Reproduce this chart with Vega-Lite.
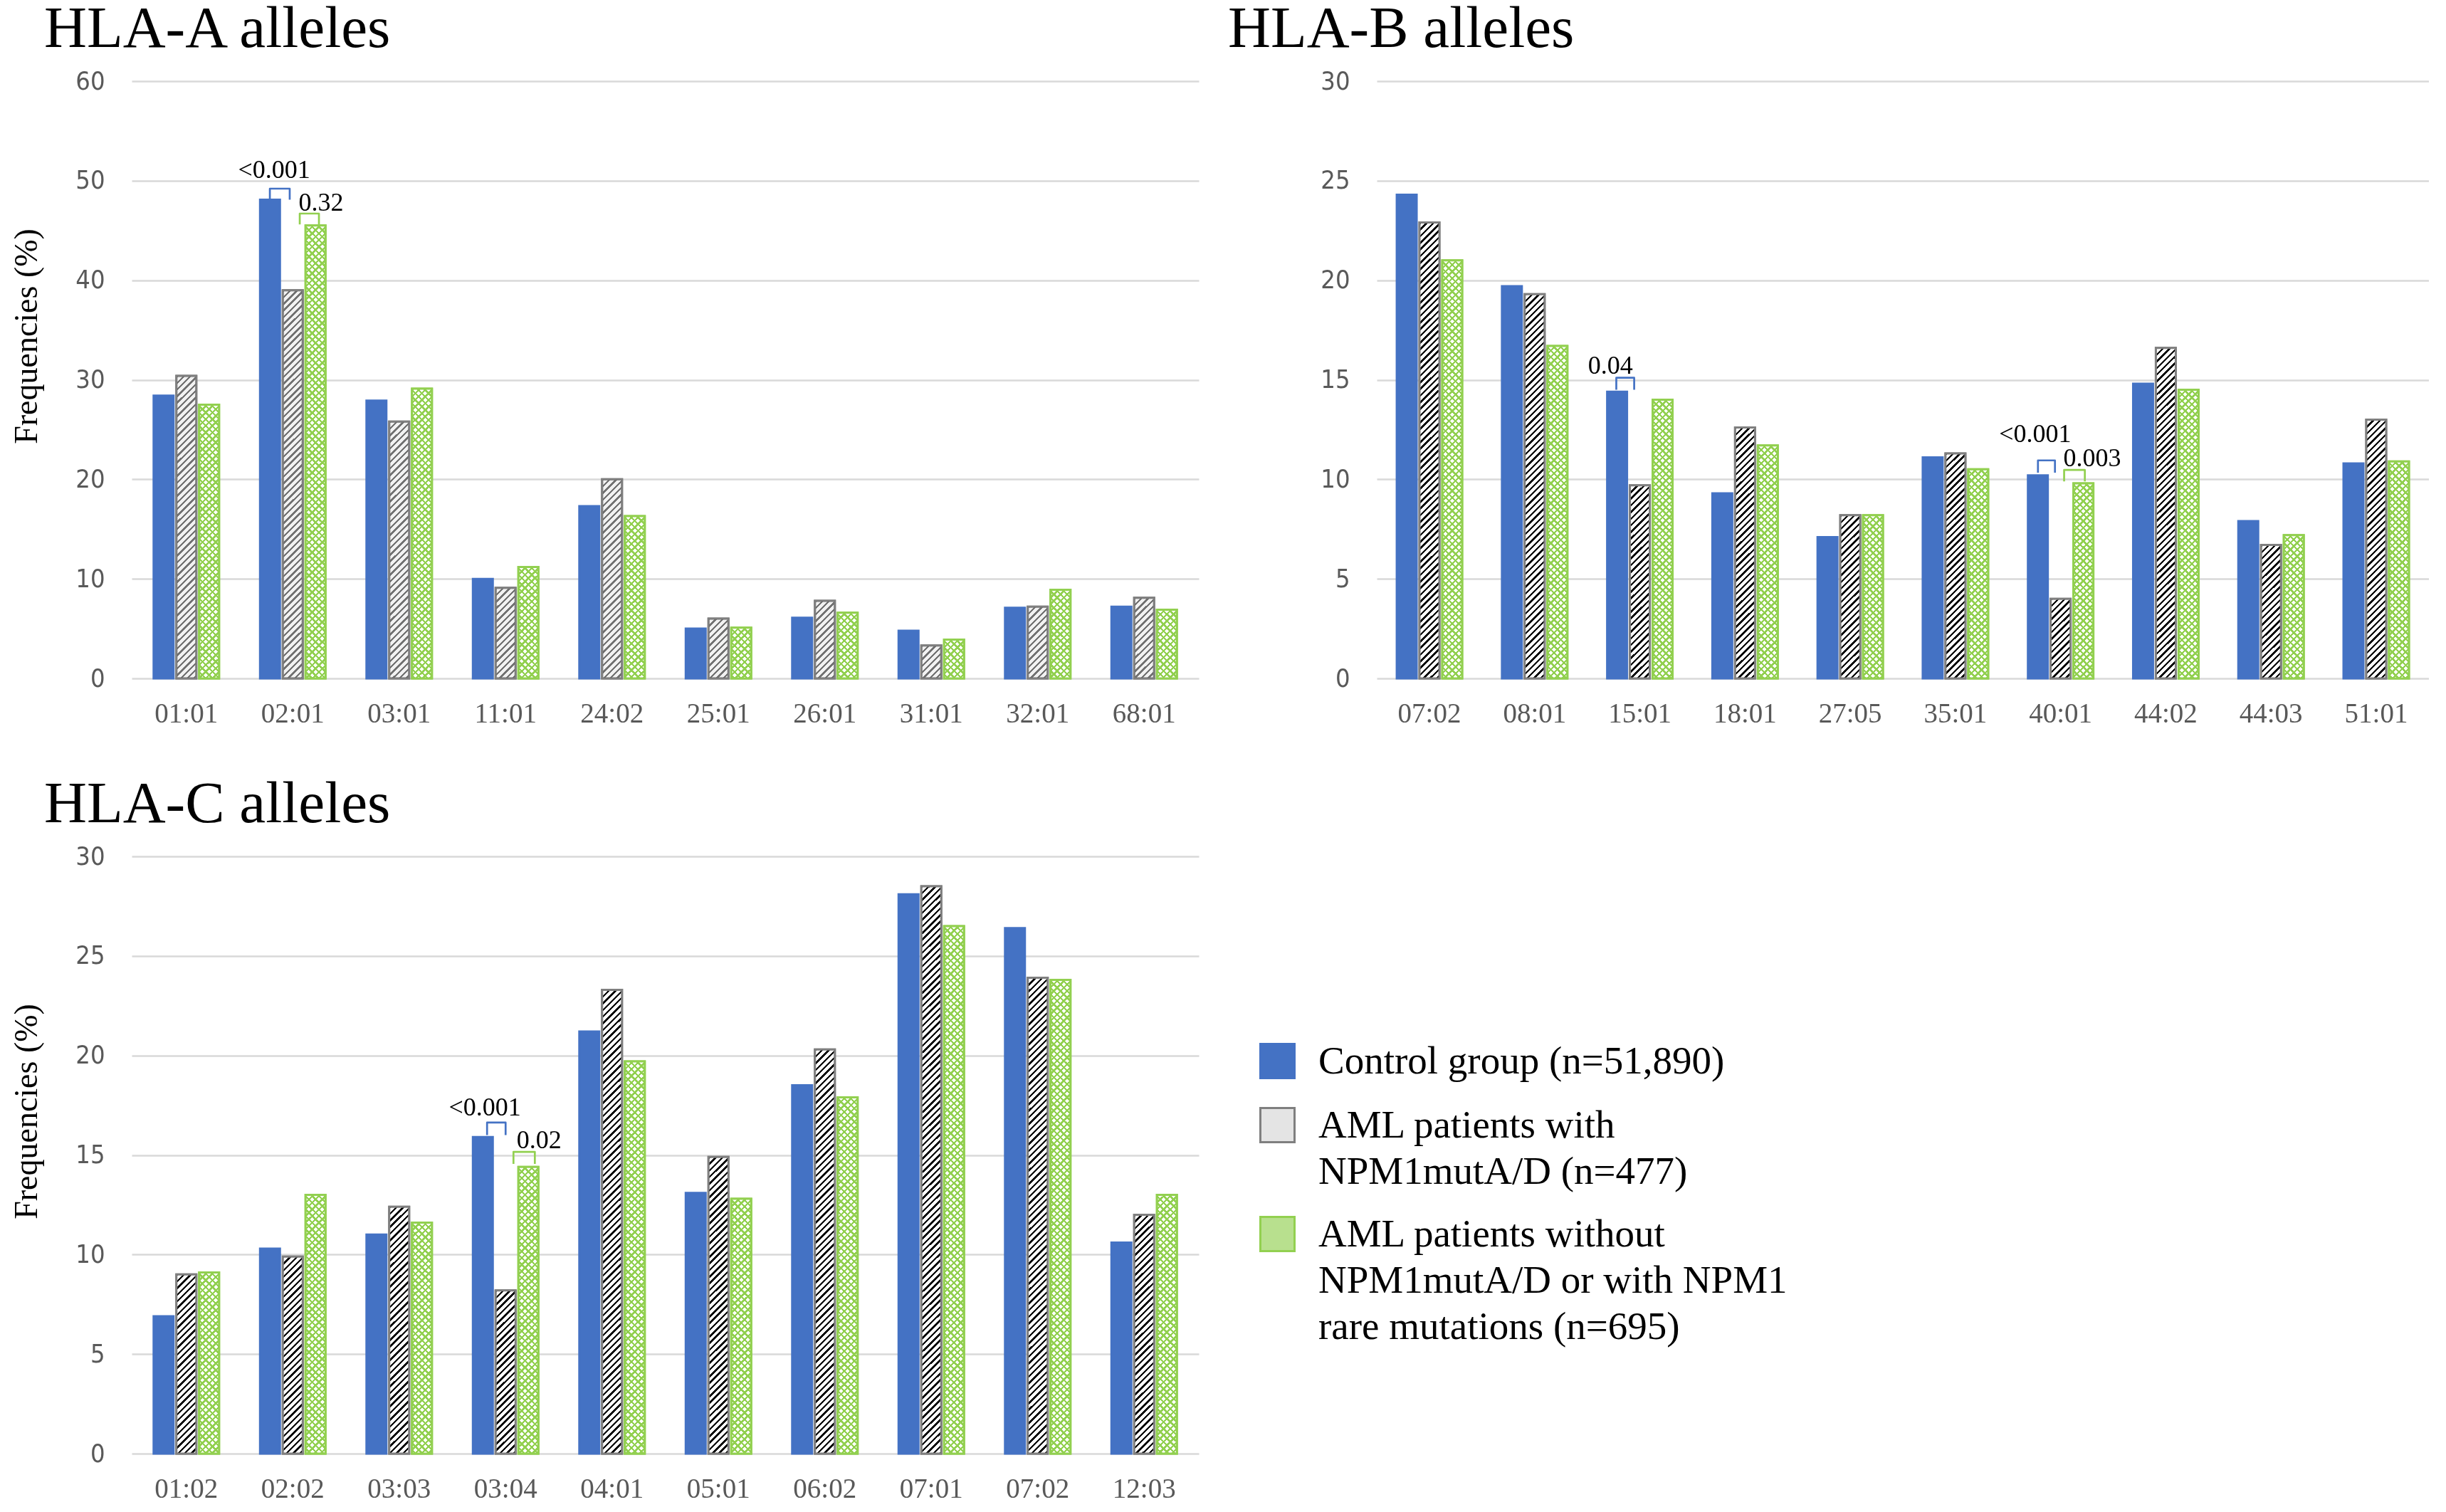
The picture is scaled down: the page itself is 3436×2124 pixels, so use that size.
{
  "$schema": "https://vega.github.io/schema/vega-lite/v6.json",
  "padding": {"left": 14, "top": 0, "right": 0, "bottom": 0},
  "background": "white",
  "params": [
    {"name": "hatch", "value": [
      {"offset":0,"color":"#fff"},{"offset":0,"color":"#000"},{"offset":0.0041,"color":"#000"},{"offset":0.0041,"color":"#fff"},
      {"offset":0.0111,"color":"#fff"},{"offset":0.0111,"color":"#000"},{"offset":0.0152,"color":"#000"},{"offset":0.0152,"color":"#fff"},
      {"offset":0.0222,"color":"#fff"},{"offset":0.0222,"color":"#000"},{"offset":0.0263,"color":"#000"},{"offset":0.0263,"color":"#fff"},
      {"offset":0.0333,"color":"#fff"},{"offset":0.0333,"color":"#000"},{"offset":0.0374,"color":"#000"},{"offset":0.0374,"color":"#fff"},
      {"offset":0.0444,"color":"#fff"},{"offset":0.0444,"color":"#000"},{"offset":0.0485,"color":"#000"},{"offset":0.0485,"color":"#fff"},
      {"offset":0.0556,"color":"#fff"},{"offset":0.0556,"color":"#000"},{"offset":0.0597,"color":"#000"},{"offset":0.0597,"color":"#fff"},
      {"offset":0.0667,"color":"#fff"},{"offset":0.0667,"color":"#000"},{"offset":0.0708,"color":"#000"},{"offset":0.0708,"color":"#fff"},
      {"offset":0.0778,"color":"#fff"},{"offset":0.0778,"color":"#000"},{"offset":0.0819,"color":"#000"},{"offset":0.0819,"color":"#fff"},
      {"offset":0.0889,"color":"#fff"},{"offset":0.0889,"color":"#000"},{"offset":0.093,"color":"#000"},{"offset":0.093,"color":"#fff"},
      {"offset":0.1,"color":"#fff"},{"offset":0.1,"color":"#000"},{"offset":0.1041,"color":"#000"},{"offset":0.1041,"color":"#fff"},
      {"offset":0.1111,"color":"#fff"},{"offset":0.1111,"color":"#000"},{"offset":0.1152,"color":"#000"},{"offset":0.1152,"color":"#fff"},
      {"offset":0.1222,"color":"#fff"},{"offset":0.1222,"color":"#000"},{"offset":0.1263,"color":"#000"},{"offset":0.1263,"color":"#fff"},
      {"offset":0.1333,"color":"#fff"},{"offset":0.1333,"color":"#000"},{"offset":0.1374,"color":"#000"},{"offset":0.1374,"color":"#fff"},
      {"offset":0.1444,"color":"#fff"},{"offset":0.1444,"color":"#000"},{"offset":0.1485,"color":"#000"},{"offset":0.1485,"color":"#fff"},
      {"offset":0.1556,"color":"#fff"},{"offset":0.1556,"color":"#000"},{"offset":0.1597,"color":"#000"},{"offset":0.1597,"color":"#fff"},
      {"offset":0.1667,"color":"#fff"},{"offset":0.1667,"color":"#000"},{"offset":0.1708,"color":"#000"},{"offset":0.1708,"color":"#fff"},
      {"offset":0.1778,"color":"#fff"},{"offset":0.1778,"color":"#000"},{"offset":0.1819,"color":"#000"},{"offset":0.1819,"color":"#fff"},
      {"offset":0.1889,"color":"#fff"},{"offset":0.1889,"color":"#000"},{"offset":0.193,"color":"#000"},{"offset":0.193,"color":"#fff"},
      {"offset":0.2,"color":"#fff"},{"offset":0.2,"color":"#000"},{"offset":0.2041,"color":"#000"},{"offset":0.2041,"color":"#fff"},
      {"offset":0.2111,"color":"#fff"},{"offset":0.2111,"color":"#000"},{"offset":0.2152,"color":"#000"},{"offset":0.2152,"color":"#fff"},
      {"offset":0.2222,"color":"#fff"},{"offset":0.2222,"color":"#000"},{"offset":0.2263,"color":"#000"},{"offset":0.2263,"color":"#fff"},
      {"offset":0.2333,"color":"#fff"},{"offset":0.2333,"color":"#000"},{"offset":0.2374,"color":"#000"},{"offset":0.2374,"color":"#fff"},
      {"offset":0.2444,"color":"#fff"},{"offset":0.2444,"color":"#000"},{"offset":0.2485,"color":"#000"},{"offset":0.2485,"color":"#fff"},
      {"offset":0.2556,"color":"#fff"},{"offset":0.2556,"color":"#000"},{"offset":0.2597,"color":"#000"},{"offset":0.2597,"color":"#fff"},
      {"offset":0.2667,"color":"#fff"},{"offset":0.2667,"color":"#000"},{"offset":0.2708,"color":"#000"},{"offset":0.2708,"color":"#fff"},
      {"offset":0.2778,"color":"#fff"},{"offset":0.2778,"color":"#000"},{"offset":0.2819,"color":"#000"},{"offset":0.2819,"color":"#fff"},
      {"offset":0.2889,"color":"#fff"},{"offset":0.2889,"color":"#000"},{"offset":0.293,"color":"#000"},{"offset":0.293,"color":"#fff"},
      {"offset":0.3,"color":"#fff"},{"offset":0.3,"color":"#000"},{"offset":0.3041,"color":"#000"},{"offset":0.3041,"color":"#fff"},
      {"offset":0.3111,"color":"#fff"},{"offset":0.3111,"color":"#000"},{"offset":0.3152,"color":"#000"},{"offset":0.3152,"color":"#fff"},
      {"offset":0.3222,"color":"#fff"},{"offset":0.3222,"color":"#000"},{"offset":0.3263,"color":"#000"},{"offset":0.3263,"color":"#fff"},
      {"offset":0.3333,"color":"#fff"},{"offset":0.3333,"color":"#000"},{"offset":0.3374,"color":"#000"},{"offset":0.3374,"color":"#fff"},
      {"offset":0.3444,"color":"#fff"},{"offset":0.3444,"color":"#000"},{"offset":0.3485,"color":"#000"},{"offset":0.3485,"color":"#fff"},
      {"offset":0.3556,"color":"#fff"},{"offset":0.3556,"color":"#000"},{"offset":0.3597,"color":"#000"},{"offset":0.3597,"color":"#fff"},
      {"offset":0.3667,"color":"#fff"},{"offset":0.3667,"color":"#000"},{"offset":0.3708,"color":"#000"},{"offset":0.3708,"color":"#fff"},
      {"offset":0.3778,"color":"#fff"},{"offset":0.3778,"color":"#000"},{"offset":0.3819,"color":"#000"},{"offset":0.3819,"color":"#fff"},
      {"offset":0.3889,"color":"#fff"},{"offset":0.3889,"color":"#000"},{"offset":0.393,"color":"#000"},{"offset":0.393,"color":"#fff"},
      {"offset":0.4,"color":"#fff"},{"offset":0.4,"color":"#000"},{"offset":0.4041,"color":"#000"},{"offset":0.4041,"color":"#fff"},
      {"offset":0.4111,"color":"#fff"},{"offset":0.4111,"color":"#000"},{"offset":0.4152,"color":"#000"},{"offset":0.4152,"color":"#fff"},
      {"offset":0.4222,"color":"#fff"},{"offset":0.4222,"color":"#000"},{"offset":0.4263,"color":"#000"},{"offset":0.4263,"color":"#fff"},
      {"offset":0.4333,"color":"#fff"},{"offset":0.4333,"color":"#000"},{"offset":0.4374,"color":"#000"},{"offset":0.4374,"color":"#fff"},
      {"offset":0.4444,"color":"#fff"},{"offset":0.4444,"color":"#000"},{"offset":0.4485,"color":"#000"},{"offset":0.4485,"color":"#fff"},
      {"offset":0.4556,"color":"#fff"},{"offset":0.4556,"color":"#000"},{"offset":0.4597,"color":"#000"},{"offset":0.4597,"color":"#fff"},
      {"offset":0.4667,"color":"#fff"},{"offset":0.4667,"color":"#000"},{"offset":0.4708,"color":"#000"},{"offset":0.4708,"color":"#fff"},
      {"offset":0.4778,"color":"#fff"},{"offset":0.4778,"color":"#000"},{"offset":0.4819,"color":"#000"},{"offset":0.4819,"color":"#fff"},
      {"offset":0.4889,"color":"#fff"},{"offset":0.4889,"color":"#000"},{"offset":0.493,"color":"#000"},{"offset":0.493,"color":"#fff"},
      {"offset":0.5,"color":"#fff"},{"offset":0.5,"color":"#000"},{"offset":0.5041,"color":"#000"},{"offset":0.5041,"color":"#fff"},
      {"offset":0.5111,"color":"#fff"},{"offset":0.5111,"color":"#000"},{"offset":0.5152,"color":"#000"},{"offset":0.5152,"color":"#fff"},
      {"offset":0.5222,"color":"#fff"},{"offset":0.5222,"color":"#000"},{"offset":0.5263,"color":"#000"},{"offset":0.5263,"color":"#fff"},
      {"offset":0.5333,"color":"#fff"},{"offset":0.5333,"color":"#000"},{"offset":0.5374,"color":"#000"},{"offset":0.5374,"color":"#fff"},
      {"offset":0.5444,"color":"#fff"},{"offset":0.5444,"color":"#000"},{"offset":0.5485,"color":"#000"},{"offset":0.5485,"color":"#fff"},
      {"offset":0.5556,"color":"#fff"},{"offset":0.5556,"color":"#000"},{"offset":0.5597,"color":"#000"},{"offset":0.5597,"color":"#fff"},
      {"offset":0.5667,"color":"#fff"},{"offset":0.5667,"color":"#000"},{"offset":0.5708,"color":"#000"},{"offset":0.5708,"color":"#fff"},
      {"offset":0.5778,"color":"#fff"},{"offset":0.5778,"color":"#000"},{"offset":0.5819,"color":"#000"},{"offset":0.5819,"color":"#fff"},
      {"offset":0.5889,"color":"#fff"},{"offset":0.5889,"color":"#000"},{"offset":0.593,"color":"#000"},{"offset":0.593,"color":"#fff"},
      {"offset":0.6,"color":"#fff"},{"offset":0.6,"color":"#000"},{"offset":0.6041,"color":"#000"},{"offset":0.6041,"color":"#fff"},
      {"offset":0.6111,"color":"#fff"},{"offset":0.6111,"color":"#000"},{"offset":0.6152,"color":"#000"},{"offset":0.6152,"color":"#fff"},
      {"offset":0.6222,"color":"#fff"},{"offset":0.6222,"color":"#000"},{"offset":0.6263,"color":"#000"},{"offset":0.6263,"color":"#fff"},
      {"offset":0.6333,"color":"#fff"},{"offset":0.6333,"color":"#000"},{"offset":0.6374,"color":"#000"},{"offset":0.6374,"color":"#fff"},
      {"offset":0.6444,"color":"#fff"},{"offset":0.6444,"color":"#000"},{"offset":0.6485,"color":"#000"},{"offset":0.6485,"color":"#fff"},
      {"offset":0.6556,"color":"#fff"},{"offset":0.6556,"color":"#000"},{"offset":0.6597,"color":"#000"},{"offset":0.6597,"color":"#fff"},
      {"offset":0.6667,"color":"#fff"},{"offset":0.6667,"color":"#000"},{"offset":0.6708,"color":"#000"},{"offset":0.6708,"color":"#fff"},
      {"offset":0.6778,"color":"#fff"},{"offset":0.6778,"color":"#000"},{"offset":0.6819,"color":"#000"},{"offset":0.6819,"color":"#fff"},
      {"offset":0.6889,"color":"#fff"},{"offset":0.6889,"color":"#000"},{"offset":0.693,"color":"#000"},{"offset":0.693,"color":"#fff"},
      {"offset":0.7,"color":"#fff"},{"offset":0.7,"color":"#000"},{"offset":0.7041,"color":"#000"},{"offset":0.7041,"color":"#fff"},
      {"offset":0.7111,"color":"#fff"},{"offset":0.7111,"color":"#000"},{"offset":0.7152,"color":"#000"},{"offset":0.7152,"color":"#fff"},
      {"offset":0.7222,"color":"#fff"},{"offset":0.7222,"color":"#000"},{"offset":0.7263,"color":"#000"},{"offset":0.7263,"color":"#fff"},
      {"offset":0.7333,"color":"#fff"},{"offset":0.7333,"color":"#000"},{"offset":0.7374,"color":"#000"},{"offset":0.7374,"color":"#fff"},
      {"offset":0.7444,"color":"#fff"},{"offset":0.7444,"color":"#000"},{"offset":0.7485,"color":"#000"},{"offset":0.7485,"color":"#fff"},
      {"offset":0.7556,"color":"#fff"},{"offset":0.7556,"color":"#000"},{"offset":0.7597,"color":"#000"},{"offset":0.7597,"color":"#fff"},
      {"offset":0.7667,"color":"#fff"},{"offset":0.7667,"color":"#000"},{"offset":0.7708,"color":"#000"},{"offset":0.7708,"color":"#fff"},
      {"offset":0.7778,"color":"#fff"},{"offset":0.7778,"color":"#000"},{"offset":0.7819,"color":"#000"},{"offset":0.7819,"color":"#fff"},
      {"offset":0.7889,"color":"#fff"},{"offset":0.7889,"color":"#000"},{"offset":0.793,"color":"#000"},{"offset":0.793,"color":"#fff"},
      {"offset":0.8,"color":"#fff"},{"offset":0.8,"color":"#000"},{"offset":0.8041,"color":"#000"},{"offset":0.8041,"color":"#fff"},
      {"offset":0.8111,"color":"#fff"},{"offset":0.8111,"color":"#000"},{"offset":0.8152,"color":"#000"},{"offset":0.8152,"color":"#fff"},
      {"offset":0.8222,"color":"#fff"},{"offset":0.8222,"color":"#000"},{"offset":0.8263,"color":"#000"},{"offset":0.8263,"color":"#fff"},
      {"offset":0.8333,"color":"#fff"},{"offset":0.8333,"color":"#000"},{"offset":0.8374,"color":"#000"},{"offset":0.8374,"color":"#fff"},
      {"offset":0.8444,"color":"#fff"},{"offset":0.8444,"color":"#000"},{"offset":0.8485,"color":"#000"},{"offset":0.8485,"color":"#fff"},
      {"offset":0.8556,"color":"#fff"},{"offset":0.8556,"color":"#000"},{"offset":0.8597,"color":"#000"},{"offset":0.8597,"color":"#fff"},
      {"offset":0.8667,"color":"#fff"},{"offset":0.8667,"color":"#000"},{"offset":0.8708,"color":"#000"},{"offset":0.8708,"color":"#fff"},
      {"offset":0.8778,"color":"#fff"},{"offset":0.8778,"color":"#000"},{"offset":0.8819,"color":"#000"},{"offset":0.8819,"color":"#fff"},
      {"offset":0.8889,"color":"#fff"},{"offset":0.8889,"color":"#000"},{"offset":0.893,"color":"#000"},{"offset":0.893,"color":"#fff"},
      {"offset":0.9,"color":"#fff"},{"offset":0.9,"color":"#000"},{"offset":0.9041,"color":"#000"},{"offset":0.9041,"color":"#fff"},
      {"offset":0.9111,"color":"#fff"},{"offset":0.9111,"color":"#000"},{"offset":0.9152,"color":"#000"},{"offset":0.9152,"color":"#fff"},
      {"offset":0.9222,"color":"#fff"},{"offset":0.9222,"color":"#000"},{"offset":0.9263,"color":"#000"},{"offset":0.9263,"color":"#fff"},
      {"offset":0.9333,"color":"#fff"},{"offset":0.9333,"color":"#000"},{"offset":0.9374,"color":"#000"},{"offset":0.9374,"color":"#fff"},
      {"offset":0.9444,"color":"#fff"},{"offset":0.9444,"color":"#000"},{"offset":0.9485,"color":"#000"},{"offset":0.9485,"color":"#fff"},
      {"offset":0.9556,"color":"#fff"},{"offset":0.9556,"color":"#000"},{"offset":0.9597,"color":"#000"},{"offset":0.9597,"color":"#fff"},
      {"offset":0.9667,"color":"#fff"},{"offset":0.9667,"color":"#000"},{"offset":0.9708,"color":"#000"},{"offset":0.9708,"color":"#fff"},
      {"offset":0.9778,"color":"#fff"},{"offset":0.9778,"color":"#000"},{"offset":0.9819,"color":"#000"},{"offset":0.9819,"color":"#fff"},
      {"offset":0.9889,"color":"#fff"},{"offset":0.9889,"color":"#000"},{"offset":0.993,"color":"#000"},{"offset":0.993,"color":"#fff"}
    ]}
  ],
  "datasets": {
    "hla": [
      {"locus": "A", "allele": "01:01", "Control": 28.4, "NPM1": 30.4, "Other": 27.5},
      {"locus": "A", "allele": "02:01", "Control": 48.1, "NPM1": 39.0, "Other": 45.5},
      {"locus": "A", "allele": "03:01", "Control": 27.9, "NPM1": 25.8, "Other": 29.1},
      {"locus": "A", "allele": "11:01", "Control": 10.0, "NPM1": 9.1, "Other": 11.2},
      {"locus": "A", "allele": "24:02", "Control": 17.3, "NPM1": 20.0, "Other": 16.3},
      {"locus": "A", "allele": "25:01", "Control": 5.0, "NPM1": 6.0, "Other": 5.1},
      {"locus": "A", "allele": "26:01", "Control": 6.1, "NPM1": 7.8, "Other": 6.6},
      {"locus": "A", "allele": "31:01", "Control": 4.8, "NPM1": 3.3, "Other": 3.9},
      {"locus": "A", "allele": "32:01", "Control": 7.1, "NPM1": 7.2, "Other": 8.9},
      {"locus": "A", "allele": "68:01", "Control": 7.2, "NPM1": 8.1, "Other": 6.9},
      {"locus": "B", "allele": "07:02", "Control": 24.3, "NPM1": 22.9, "Other": 21.0},
      {"locus": "B", "allele": "08:01", "Control": 19.7, "NPM1": 19.3, "Other": 16.7},
      {"locus": "B", "allele": "15:01", "Control": 14.4, "NPM1": 9.7, "Other": 14.0},
      {"locus": "B", "allele": "18:01", "Control": 9.3, "NPM1": 12.6, "Other": 11.7},
      {"locus": "B", "allele": "27:05", "Control": 7.1, "NPM1": 8.2, "Other": 8.2},
      {"locus": "B", "allele": "35:01", "Control": 11.1, "NPM1": 11.3, "Other": 10.5},
      {"locus": "B", "allele": "40:01", "Control": 10.2, "NPM1": 4.0, "Other": 9.8},
      {"locus": "B", "allele": "44:02", "Control": 14.8, "NPM1": 16.6, "Other": 14.5},
      {"locus": "B", "allele": "44:03", "Control": 7.9, "NPM1": 6.7, "Other": 7.2},
      {"locus": "B", "allele": "51:01", "Control": 10.8, "NPM1": 13.0, "Other": 10.9},
      {"locus": "C", "allele": "01:02", "Control": 6.9, "NPM1": 9.0, "Other": 9.1},
      {"locus": "C", "allele": "02:02", "Control": 10.3, "NPM1": 9.9, "Other": 13.0},
      {"locus": "C", "allele": "03:03", "Control": 11.0, "NPM1": 12.4, "Other": 11.6},
      {"locus": "C", "allele": "03:04", "Control": 15.9, "NPM1": 8.2, "Other": 14.4},
      {"locus": "C", "allele": "04:01", "Control": 21.2, "NPM1": 23.3, "Other": 19.7},
      {"locus": "C", "allele": "05:01", "Control": 13.1, "NPM1": 14.9, "Other": 12.8},
      {"locus": "C", "allele": "06:02", "Control": 18.5, "NPM1": 20.3, "Other": 17.9},
      {"locus": "C", "allele": "07:01", "Control": 28.1, "NPM1": 28.5, "Other": 26.5},
      {"locus": "C", "allele": "07:02", "Control": 26.4, "NPM1": 23.9, "Other": 23.8},
      {"locus": "C", "allele": "12:03", "Control": 10.6, "NPM1": 12.0, "Other": 13.0}
    ],
    "brackets": [
      {"locus": "A", "allele": "02:01", "id": "A1", "pair": "CN", "k": 1, "pos": 0.45, "y": 48.1},
      {"locus": "A", "allele": "02:01", "id": "A1", "pair": "CN", "k": 2, "pos": 0.45, "y": 49.2},
      {"locus": "A", "allele": "02:01", "id": "A1", "pair": "CN", "k": 3, "pos": 1.36, "y": 49.2},
      {"locus": "A", "allele": "02:01", "id": "A1", "pair": "CN", "k": 4, "pos": 1.36, "y": 48.1},
      {"locus": "A", "allele": "02:01", "id": "A2", "pair": "NO", "k": 1, "pos": 1.82, "y": 45.6},
      {"locus": "A", "allele": "02:01", "id": "A2", "pair": "NO", "k": 2, "pos": 1.82, "y": 46.7},
      {"locus": "A", "allele": "02:01", "id": "A2", "pair": "NO", "k": 3, "pos": 2.7, "y": 46.7},
      {"locus": "A", "allele": "02:01", "id": "A2", "pair": "NO", "k": 4, "pos": 2.7, "y": 45.6},
      {"locus": "B", "allele": "15:01", "id": "B1", "pair": "CN", "k": 1, "pos": 0.42, "y": 14.5},
      {"locus": "B", "allele": "15:01", "id": "B1", "pair": "CN", "k": 2, "pos": 0.42, "y": 15.1},
      {"locus": "B", "allele": "15:01", "id": "B1", "pair": "CN", "k": 3, "pos": 1.24, "y": 15.1},
      {"locus": "B", "allele": "15:01", "id": "B1", "pair": "CN", "k": 4, "pos": 1.24, "y": 14.5},
      {"locus": "B", "allele": "40:01", "id": "B2", "pair": "CN", "k": 1, "pos": 0.46, "y": 10.33},
      {"locus": "B", "allele": "40:01", "id": "B2", "pair": "CN", "k": 2, "pos": 0.46, "y": 10.95},
      {"locus": "B", "allele": "40:01", "id": "B2", "pair": "CN", "k": 3, "pos": 1.24, "y": 10.95},
      {"locus": "B", "allele": "40:01", "id": "B2", "pair": "CN", "k": 4, "pos": 1.24, "y": 10.33},
      {"locus": "B", "allele": "40:01", "id": "B3", "pair": "NO", "k": 1, "pos": 1.66, "y": 9.9},
      {"locus": "B", "allele": "40:01", "id": "B3", "pair": "NO", "k": 2, "pos": 1.66, "y": 10.47},
      {"locus": "B", "allele": "40:01", "id": "B3", "pair": "NO", "k": 3, "pos": 2.61, "y": 10.47},
      {"locus": "B", "allele": "40:01", "id": "B3", "pair": "NO", "k": 4, "pos": 2.61, "y": 9.9},
      {"locus": "C", "allele": "03:04", "id": "C1", "pair": "CN", "k": 1, "pos": 0.65, "y": 16.0},
      {"locus": "C", "allele": "03:04", "id": "C1", "pair": "CN", "k": 2, "pos": 0.65, "y": 16.63},
      {"locus": "C", "allele": "03:04", "id": "C1", "pair": "CN", "k": 3, "pos": 1.5, "y": 16.63},
      {"locus": "C", "allele": "03:04", "id": "C1", "pair": "CN", "k": 4, "pos": 1.5, "y": 16.0},
      {"locus": "C", "allele": "03:04", "id": "C2", "pair": "NO", "k": 1, "pos": 1.86, "y": 14.55},
      {"locus": "C", "allele": "03:04", "id": "C2", "pair": "NO", "k": 2, "pos": 1.86, "y": 15.16},
      {"locus": "C", "allele": "03:04", "id": "C2", "pair": "NO", "k": 3, "pos": 2.84, "y": 15.16},
      {"locus": "C", "allele": "03:04", "id": "C2", "pair": "NO", "k": 4, "pos": 2.84, "y": 14.55}
    ],
    "pvals": [
      {"locus": "A", "allele": "02:01", "pos": 0.65, "y": 50.3, "label": "<0.001"},
      {"locus": "A", "allele": "02:01", "pos": 2.8, "y": 47.0, "label": "0.32"},
      {"locus": "B", "allele": "15:01", "pos": 0.15, "y": 15.3, "label": "0.04"},
      {"locus": "B", "allele": "40:01", "pos": 0.33, "y": 11.86, "label": "<0.001"},
      {"locus": "B", "allele": "40:01", "pos": 2.95, "y": 10.66, "label": "0.003"},
      {"locus": "C", "allele": "03:04", "pos": 0.55, "y": 16.97, "label": "<0.001"},
      {"locus": "C", "allele": "03:04", "pos": 3.03, "y": 15.33, "label": "0.02"}
    ]
  },
  "vconcat": [
    {
      "hconcat": [
        {
          "width": 1499,
          "height": 839,
          "title": {"text": "HLA-A alleles", "anchor": "start", "dx": -123, "offset": 13, "font": "Liberation Serif, Times New Roman, serif"},
          "resolve": {"scale": {"xOffset": "independent"}},
          "encoding": {
            "x": {"field": "allele", "type": "nominal", "scale": {"domain": ["01:01", "02:01", "03:01", "11:01", "24:02", "25:01", "26:01", "31:01", "32:01", "68:01"], "paddingInner": 0.385, "paddingOuter": 0.206}, "axis": {"title": null}}
          },
          "layer": [
            {
              "data": {"name": "hla"},
              "transform": [{"filter": "datum.locus == 'A'"}, {"fold": ["Control", "NPM1", "Other"], "as": ["group", "freq"]}],
              "mark": {"type": "bar", "strokeWidth": 3},
              "encoding": {
                "xOffset": {"field": "group", "type": "nominal", "scale": {"domain": ["Control", "NPM1", "Other"], "paddingInner": 0.125, "paddingOuter": 0}},
                "y": {"field": "freq", "type": "quantitative", "scale": {"domain": [0, 60]}, "axis": {"values": [0, 10, 20, 30, 40, 50, 60], "labelPadding": 38, "title": "Frequencies (%)", "titleX": -148, "titleY": 358, "titleAngle": -90, "titleAlign": "center", "titleBaseline": "middle", "titleFont": "Liberation Serif", "titleFontSize": 46, "titleFontWeight": "normal", "titleColor": "black"}},
                "fill": {"field": "group", "type": "nominal", "scale": {"domain": ["Control", "NPM1", "Other"], "range": ["#4472c4", "#e4e4e4", "#b8e08e"]}, "legend": {"orient": "none", "legendX": 1582, "legendY": 1349, "labelExpr": "datum.value == 'Control' ? 'Control group (n=51,890)' : datum.value == 'NPM1' ? ['AML patients with', 'NPM1mutA/D (n=477)'] : ['AML patients without', 'NPM1mutA/D or with NPM1', 'rare mutations (n=695)']"}},
                "stroke": {"field": "group", "type": "nominal", "scale": {"domain": ["Control", "NPM1", "Other"], "range": ["#4472c4", "#7f7f7f", "#92d050"]}, "legend": {"orient": "none", "legendX": 1582, "legendY": 1349, "labelExpr": "datum.value == 'Control' ? 'Control group (n=51,890)' : datum.value == 'NPM1' ? ['AML patients with', 'NPM1mutA/D (n=477)'] : ['AML patients without', 'NPM1mutA/D or with NPM1', 'rare mutations (n=695)']"}}
              }
            },
            {
              "data": {"name": "hla"},
              "transform": [{"filter": "datum.locus == 'A'"}, {"fold": ["Control", "NPM1", "Other"], "as": ["group", "freq"]}, {"filter": "datum.group == 'NPM1'"}],
              "mark": {"type": "bar", "fillOpacity": 0.5, "fill": {"expr": "{gradient: 'linear', x1: 0, y1: 0, x2: 27.9 * 840 / (778 + pow(datum.freq * 13.983, 2)), y2: datum.freq * 13.983 * 840 / (778 + pow(datum.freq * 13.983, 2)), stops: hatch}"}},
              "encoding": {
                "xOffset": {"field": "group", "type": "nominal", "scale": {"domain": ["Control", "NPM1", "Other"], "paddingInner": 0.125, "paddingOuter": 0}},
                "y": {"field": "freq", "type": "quantitative"}
              }
            },
            {
              "data": {"name": "hla"},
              "transform": [{"filter": "datum.locus == 'A'"}, {"fold": ["Control", "NPM1", "Other"], "as": ["group", "freq"]}, {"filter": "datum.group == 'Other'"}],
              "mark": {"type": "bar", "fill": {"expr": "{gradient: 'linear', x1: 0, y1: 0, x2: 27.9 * 840 / (778 + pow(datum.freq * 13.983, 2)), y2: datum.freq * 13.983 * 840 / (778 + pow(datum.freq * 13.983, 2)), stops: hatch}"}},
              "encoding": {
                "xOffset": {"field": "group", "type": "nominal", "scale": {"domain": ["Control", "NPM1", "Other"], "paddingInner": 0.125, "paddingOuter": 0}},
                "y": {"field": "freq", "type": "quantitative"}
              }
            },
            {
              "data": {"name": "hla"},
              "transform": [{"filter": "datum.locus == 'A'"}, {"fold": ["Control", "NPM1", "Other"], "as": ["group", "freq"]}, {"filter": "datum.group == 'Other'"}],
              "mark": {"type": "bar", "blend": "multiply", "fill": {"expr": "{gradient: 'linear', x1: 1, y1: 0, x2: 1 - 27.9 * 840 / (778 + pow(datum.freq * 13.983, 2)), y2: datum.freq * 13.983 * 840 / (778 + pow(datum.freq * 13.983, 2)), stops: hatch}"}},
              "encoding": {
                "xOffset": {"field": "group", "type": "nominal", "scale": {"domain": ["Control", "NPM1", "Other"], "paddingInner": 0.125, "paddingOuter": 0}},
                "y": {"field": "freq", "type": "quantitative"}
              }
            },
            {
              "data": {"name": "hla"},
              "transform": [{"filter": "datum.locus == 'A'"}, {"fold": ["Control", "NPM1", "Other"], "as": ["group", "freq"]}, {"filter": "datum.group == 'Other'"}],
              "mark": {"type": "bar", "blend": "screen", "fill": "#92d050"},
              "encoding": {
                "xOffset": {"field": "group", "type": "nominal", "scale": {"domain": ["Control", "NPM1", "Other"], "paddingInner": 0.125, "paddingOuter": 0}},
                "y": {"field": "freq", "type": "quantitative"}
              }
            },
            {
              "data": {"name": "hla"},
              "transform": [{"filter": "datum.locus == 'A'"}, {"fold": ["Control", "NPM1", "Other"], "as": ["group", "freq"]}, {"filter": "datum.group != 'Control'"}],
              "mark": {"type": "bar", "fill": "transparent", "strokeWidth": 3, "stroke": {"expr": "datum.group == 'NPM1' ? '#7f7f7f' : '#92d050'"}},
              "encoding": {
                "xOffset": {"field": "group", "type": "nominal", "scale": {"domain": ["Control", "NPM1", "Other"], "paddingInner": 0.125, "paddingOuter": 0}},
                "y": {"field": "freq", "type": "quantitative"}
              }
            },
            {
              "data": {"name": "brackets"},
              "transform": [{"filter": "datum.locus == 'A'"}],
              "mark": {"type": "line", "strokeWidth": 2.7, "strokeJoin": "round"},
              "encoding": {
                "xOffset": {"field": "pos", "type": "quantitative", "scale": {"domain": [0, 3]}},
                "y": {"field": "y", "type": "quantitative"},
                "detail": {"field": "id"},
                "order": {"field": "k"},
                "stroke": {"condition": {"test": "datum.pair == 'CN'", "value": "#4472c4"}, "value": "#92d050"}
              }
            },
            {
              "data": {"name": "pvals"},
              "transform": [{"filter": "datum.locus == 'A'"}],
              "mark": {"type": "text", "font": "Liberation Serif", "fontSize": 36, "baseline": "alphabetic", "align": "center", "color": "black"},
              "encoding": {
                "xOffset": {"field": "pos", "type": "quantitative", "scale": {"domain": [0, 3]}},
                "y": {"field": "y", "type": "quantitative"},
                "text": {"field": "label"}
              }
            }
          ]
        },
        {
          "width": 1478,
          "height": 839,
          "title": {"text": "HLA-B alleles", "anchor": "start", "dx": -209, "offset": 13, "font": "Liberation Serif, Times New Roman, serif"},
          "resolve": {"scale": {"xOffset": "independent"}},
          "encoding": {
            "x": {"field": "allele", "type": "nominal", "scale": {"domain": ["07:02", "08:01", "15:01", "18:01", "27:05", "35:01", "40:01", "44:02", "44:03", "51:01"], "paddingInner": 0.378, "paddingOuter": 0.19}, "axis": {"title": null}}
          },
          "layer": [
            {
              "data": {"name": "hla"},
              "transform": [{"filter": "datum.locus == 'B'"}, {"fold": ["Control", "NPM1", "Other"], "as": ["group", "freq"]}],
              "mark": {"type": "bar", "strokeWidth": 3},
              "encoding": {
                "xOffset": {"field": "group", "type": "nominal", "scale": {"domain": ["Control", "NPM1", "Other"], "paddingInner": 0.125, "paddingOuter": 0}},
                "y": {"field": "freq", "type": "quantitative", "scale": {"domain": [0, 30]}, "axis": {"values": [0, 5, 10, 15, 20, 25, 30], "labelPadding": 38, "title": null}},
                "fill": {"field": "group", "type": "nominal", "scale": {"domain": ["Control", "NPM1", "Other"], "range": ["#4472c4", "#e4e4e4", "#b8e08e"]}, "legend": {"orient": "none", "legendX": 1582, "legendY": 1349, "labelExpr": "datum.value == 'Control' ? 'Control group (n=51,890)' : datum.value == 'NPM1' ? ['AML patients with', 'NPM1mutA/D (n=477)'] : ['AML patients without', 'NPM1mutA/D or with NPM1', 'rare mutations (n=695)']"}},
                "stroke": {"field": "group", "type": "nominal", "scale": {"domain": ["Control", "NPM1", "Other"], "range": ["#4472c4", "#7f7f7f", "#92d050"]}, "legend": {"orient": "none", "legendX": 1582, "legendY": 1349, "labelExpr": "datum.value == 'Control' ? 'Control group (n=51,890)' : datum.value == 'NPM1' ? ['AML patients with', 'NPM1mutA/D (n=477)'] : ['AML patients without', 'NPM1mutA/D or with NPM1', 'rare mutations (n=695)']"}}
              }
            },
            {
              "data": {"name": "hla"},
              "transform": [{"filter": "datum.locus == 'B'"}, {"fold": ["Control", "NPM1", "Other"], "as": ["group", "freq"]}, {"filter": "datum.group == 'NPM1'"}],
              "mark": {"type": "bar", "fill": {"expr": "{gradient: 'linear', x1: 0, y1: 0, x2: 27.9 * 840 / (778 + pow(datum.freq * 27.967, 2)), y2: datum.freq * 27.967 * 840 / (778 + pow(datum.freq * 27.967, 2)), stops: hatch}"}},
              "encoding": {
                "xOffset": {"field": "group", "type": "nominal", "scale": {"domain": ["Control", "NPM1", "Other"], "paddingInner": 0.125, "paddingOuter": 0}},
                "y": {"field": "freq", "type": "quantitative"}
              }
            },
            {
              "data": {"name": "hla"},
              "transform": [{"filter": "datum.locus == 'B'"}, {"fold": ["Control", "NPM1", "Other"], "as": ["group", "freq"]}, {"filter": "datum.group == 'Other'"}],
              "mark": {"type": "bar", "fill": {"expr": "{gradient: 'linear', x1: 0, y1: 0, x2: 27.9 * 840 / (778 + pow(datum.freq * 27.967, 2)), y2: datum.freq * 27.967 * 840 / (778 + pow(datum.freq * 27.967, 2)), stops: hatch}"}},
              "encoding": {
                "xOffset": {"field": "group", "type": "nominal", "scale": {"domain": ["Control", "NPM1", "Other"], "paddingInner": 0.125, "paddingOuter": 0}},
                "y": {"field": "freq", "type": "quantitative"}
              }
            },
            {
              "data": {"name": "hla"},
              "transform": [{"filter": "datum.locus == 'B'"}, {"fold": ["Control", "NPM1", "Other"], "as": ["group", "freq"]}, {"filter": "datum.group == 'Other'"}],
              "mark": {"type": "bar", "blend": "multiply", "fill": {"expr": "{gradient: 'linear', x1: 1, y1: 0, x2: 1 - 27.9 * 840 / (778 + pow(datum.freq * 27.967, 2)), y2: datum.freq * 27.967 * 840 / (778 + pow(datum.freq * 27.967, 2)), stops: hatch}"}},
              "encoding": {
                "xOffset": {"field": "group", "type": "nominal", "scale": {"domain": ["Control", "NPM1", "Other"], "paddingInner": 0.125, "paddingOuter": 0}},
                "y": {"field": "freq", "type": "quantitative"}
              }
            },
            {
              "data": {"name": "hla"},
              "transform": [{"filter": "datum.locus == 'B'"}, {"fold": ["Control", "NPM1", "Other"], "as": ["group", "freq"]}, {"filter": "datum.group == 'Other'"}],
              "mark": {"type": "bar", "blend": "screen", "fill": "#92d050"},
              "encoding": {
                "xOffset": {"field": "group", "type": "nominal", "scale": {"domain": ["Control", "NPM1", "Other"], "paddingInner": 0.125, "paddingOuter": 0}},
                "y": {"field": "freq", "type": "quantitative"}
              }
            },
            {
              "data": {"name": "hla"},
              "transform": [{"filter": "datum.locus == 'B'"}, {"fold": ["Control", "NPM1", "Other"], "as": ["group", "freq"]}, {"filter": "datum.group != 'Control'"}],
              "mark": {"type": "bar", "fill": "transparent", "strokeWidth": 3, "stroke": {"expr": "datum.group == 'NPM1' ? '#7f7f7f' : '#92d050'"}},
              "encoding": {
                "xOffset": {"field": "group", "type": "nominal", "scale": {"domain": ["Control", "NPM1", "Other"], "paddingInner": 0.125, "paddingOuter": 0}},
                "y": {"field": "freq", "type": "quantitative"}
              }
            },
            {
              "data": {"name": "brackets"},
              "transform": [{"filter": "datum.locus == 'B'"}],
              "mark": {"type": "line", "strokeWidth": 2.7, "strokeJoin": "round"},
              "encoding": {
                "xOffset": {"field": "pos", "type": "quantitative", "scale": {"domain": [0, 3]}},
                "y": {"field": "y", "type": "quantitative"},
                "detail": {"field": "id"},
                "order": {"field": "k"},
                "stroke": {"condition": {"test": "datum.pair == 'CN'", "value": "#4472c4"}, "value": "#92d050"}
              }
            },
            {
              "data": {"name": "pvals"},
              "transform": [{"filter": "datum.locus == 'B'"}],
              "mark": {"type": "text", "font": "Liberation Serif", "fontSize": 36, "baseline": "alphabetic", "align": "center", "color": "black"},
              "encoding": {
                "xOffset": {"field": "pos", "type": "quantitative", "scale": {"domain": [0, 3]}},
                "y": {"field": "y", "type": "quantitative"},
                "text": {"field": "label"}
              }
            }
          ]
        }
      ],
      "spacing": 41
    },
    {
      "width": 1499,
      "height": 839,
      "title": {"text": "HLA-C alleles", "anchor": "start", "dx": -123, "offset": 13, "font": "Liberation Serif, Times New Roman, serif"},
      "resolve": {"scale": {"xOffset": "independent"}},
      "encoding": {
        "x": {"field": "allele", "type": "nominal", "scale": {"domain": ["01:02", "02:02", "03:03", "03:04", "04:01", "05:01", "06:02", "07:01", "07:02", "12:03"], "paddingInner": 0.385, "paddingOuter": 0.206}, "axis": {"title": null}}
      },
      "layer": [
        {
          "data": {"name": "hla"},
          "transform": [{"filter": "datum.locus == 'C'"}, {"fold": ["Control", "NPM1", "Other"], "as": ["group", "freq"]}],
          "mark": {"type": "bar", "strokeWidth": 3},
          "encoding": {
            "xOffset": {"field": "group", "type": "nominal", "scale": {"domain": ["Control", "NPM1", "Other"], "paddingInner": 0.125, "paddingOuter": 0}},
            "y": {"field": "freq", "type": "quantitative", "scale": {"domain": [0, 30]}, "axis": {"values": [0, 5, 10, 15, 20, 25, 30], "labelPadding": 38, "title": "Frequencies (%)", "titleX": -148, "titleY": 358, "titleAngle": -90, "titleAlign": "center", "titleBaseline": "middle", "titleFont": "Liberation Serif", "titleFontSize": 46, "titleFontWeight": "normal", "titleColor": "black"}},
            "fill": {"field": "group", "type": "nominal", "scale": {"domain": ["Control", "NPM1", "Other"], "range": ["#4472c4", "#e4e4e4", "#b8e08e"]}, "legend": {"orient": "none", "legendX": 1582, "legendY": 1349, "labelExpr": "datum.value == 'Control' ? 'Control group (n=51,890)' : datum.value == 'NPM1' ? ['AML patients with', 'NPM1mutA/D (n=477)'] : ['AML patients without', 'NPM1mutA/D or with NPM1', 'rare mutations (n=695)']"}},
            "stroke": {"field": "group", "type": "nominal", "scale": {"domain": ["Control", "NPM1", "Other"], "range": ["#4472c4", "#7f7f7f", "#92d050"]}, "legend": {"orient": "none", "legendX": 1582, "legendY": 1349, "labelExpr": "datum.value == 'Control' ? 'Control group (n=51,890)' : datum.value == 'NPM1' ? ['AML patients with', 'NPM1mutA/D (n=477)'] : ['AML patients without', 'NPM1mutA/D or with NPM1', 'rare mutations (n=695)']"}}
          }
        },
        {
          "data": {"name": "hla"},
          "transform": [{"filter": "datum.locus == 'C'"}, {"fold": ["Control", "NPM1", "Other"], "as": ["group", "freq"]}, {"filter": "datum.group == 'NPM1'"}],
          "mark": {"type": "bar", "fill": {"expr": "{gradient: 'linear', x1: 0, y1: 0, x2: 27.9 * 840 / (778 + pow(datum.freq * 27.967, 2)), y2: datum.freq * 27.967 * 840 / (778 + pow(datum.freq * 27.967, 2)), stops: hatch}"}},
          "encoding": {
            "xOffset": {"field": "group", "type": "nominal", "scale": {"domain": ["Control", "NPM1", "Other"], "paddingInner": 0.125, "paddingOuter": 0}},
            "y": {"field": "freq", "type": "quantitative"}
          }
        },
        {
          "data": {"name": "hla"},
          "transform": [{"filter": "datum.locus == 'C'"}, {"fold": ["Control", "NPM1", "Other"], "as": ["group", "freq"]}, {"filter": "datum.group == 'Other'"}],
          "mark": {"type": "bar", "fill": {"expr": "{gradient: 'linear', x1: 0, y1: 0, x2: 27.9 * 840 / (778 + pow(datum.freq * 27.967, 2)), y2: datum.freq * 27.967 * 840 / (778 + pow(datum.freq * 27.967, 2)), stops: hatch}"}},
          "encoding": {
            "xOffset": {"field": "group", "type": "nominal", "scale": {"domain": ["Control", "NPM1", "Other"], "paddingInner": 0.125, "paddingOuter": 0}},
            "y": {"field": "freq", "type": "quantitative"}
          }
        },
        {
          "data": {"name": "hla"},
          "transform": [{"filter": "datum.locus == 'C'"}, {"fold": ["Control", "NPM1", "Other"], "as": ["group", "freq"]}, {"filter": "datum.group == 'Other'"}],
          "mark": {"type": "bar", "blend": "multiply", "fill": {"expr": "{gradient: 'linear', x1: 1, y1: 0, x2: 1 - 27.9 * 840 / (778 + pow(datum.freq * 27.967, 2)), y2: datum.freq * 27.967 * 840 / (778 + pow(datum.freq * 27.967, 2)), stops: hatch}"}},
          "encoding": {
            "xOffset": {"field": "group", "type": "nominal", "scale": {"domain": ["Control", "NPM1", "Other"], "paddingInner": 0.125, "paddingOuter": 0}},
            "y": {"field": "freq", "type": "quantitative"}
          }
        },
        {
          "data": {"name": "hla"},
          "transform": [{"filter": "datum.locus == 'C'"}, {"fold": ["Control", "NPM1", "Other"], "as": ["group", "freq"]}, {"filter": "datum.group == 'Other'"}],
          "mark": {"type": "bar", "blend": "screen", "fill": "#92d050"},
          "encoding": {
            "xOffset": {"field": "group", "type": "nominal", "scale": {"domain": ["Control", "NPM1", "Other"], "paddingInner": 0.125, "paddingOuter": 0}},
            "y": {"field": "freq", "type": "quantitative"}
          }
        },
        {
          "data": {"name": "hla"},
          "transform": [{"filter": "datum.locus == 'C'"}, {"fold": ["Control", "NPM1", "Other"], "as": ["group", "freq"]}, {"filter": "datum.group != 'Control'"}],
          "mark": {"type": "bar", "fill": "transparent", "strokeWidth": 3, "stroke": {"expr": "datum.group == 'NPM1' ? '#7f7f7f' : '#92d050'"}},
          "encoding": {
            "xOffset": {"field": "group", "type": "nominal", "scale": {"domain": ["Control", "NPM1", "Other"], "paddingInner": 0.125, "paddingOuter": 0}},
            "y": {"field": "freq", "type": "quantitative"}
          }
        },
        {
          "data": {"name": "brackets"},
          "transform": [{"filter": "datum.locus == 'C'"}],
          "mark": {"type": "line", "strokeWidth": 2.7, "strokeJoin": "round"},
          "encoding": {
            "xOffset": {"field": "pos", "type": "quantitative", "scale": {"domain": [0, 3]}},
            "y": {"field": "y", "type": "quantitative"},
            "detail": {"field": "id"},
            "order": {"field": "k"},
            "stroke": {"condition": {"test": "datum.pair == 'CN'", "value": "#4472c4"}, "value": "#92d050"}
          }
        },
        {
          "data": {"name": "pvals"},
          "transform": [{"filter": "datum.locus == 'C'"}],
          "mark": {"type": "text", "font": "Liberation Serif", "fontSize": 36, "baseline": "alphabetic", "align": "center", "color": "black"},
          "encoding": {
            "xOffset": {"field": "pos", "type": "quantitative", "scale": {"domain": [0, 3]}},
            "y": {"field": "y", "type": "quantitative"},
            "text": {"field": "label"}
          }
        }
      ]
    }
  ],
  "spacing": 67,
  "config": {
    "view": {"stroke": null},
    "font": "Liberation Serif",
    "style": {"guide-label": {"lineHeight": 65}},
    "title": {"font": "Liberation Serif", "fontSize": 83, "fontWeight": "normal", "color": "black", "baseline": "alphabetic", "frame": "group"},
    "axis": {"domain": false, "ticks": false, "gridColor": "#d9d9d9", "gridWidth": 2.5, "labelColor": "#595959"},
    "axisX": {"grid": false, "labelFont": "Liberation Serif", "labelFontSize": 39, "labelPadding": 30, "labelAngle": 0},
    "axisY": {"grid": true, "labelFont": "DejaVu Sans Condensed, Liberation Sans Narrow, sans-serif", "labelFontSize": 36},
    "legend": {"title": null, "symbolType": "square", "symbolSize": 2304, "symbolStrokeWidth": 3, "labelFont": "Liberation Serif", "labelFontSize": 55, "labelColor": "black", "labelLimit": 2000, "labelOffset": 30, "rowPadding": 29, "padding": 0}
  }
}
